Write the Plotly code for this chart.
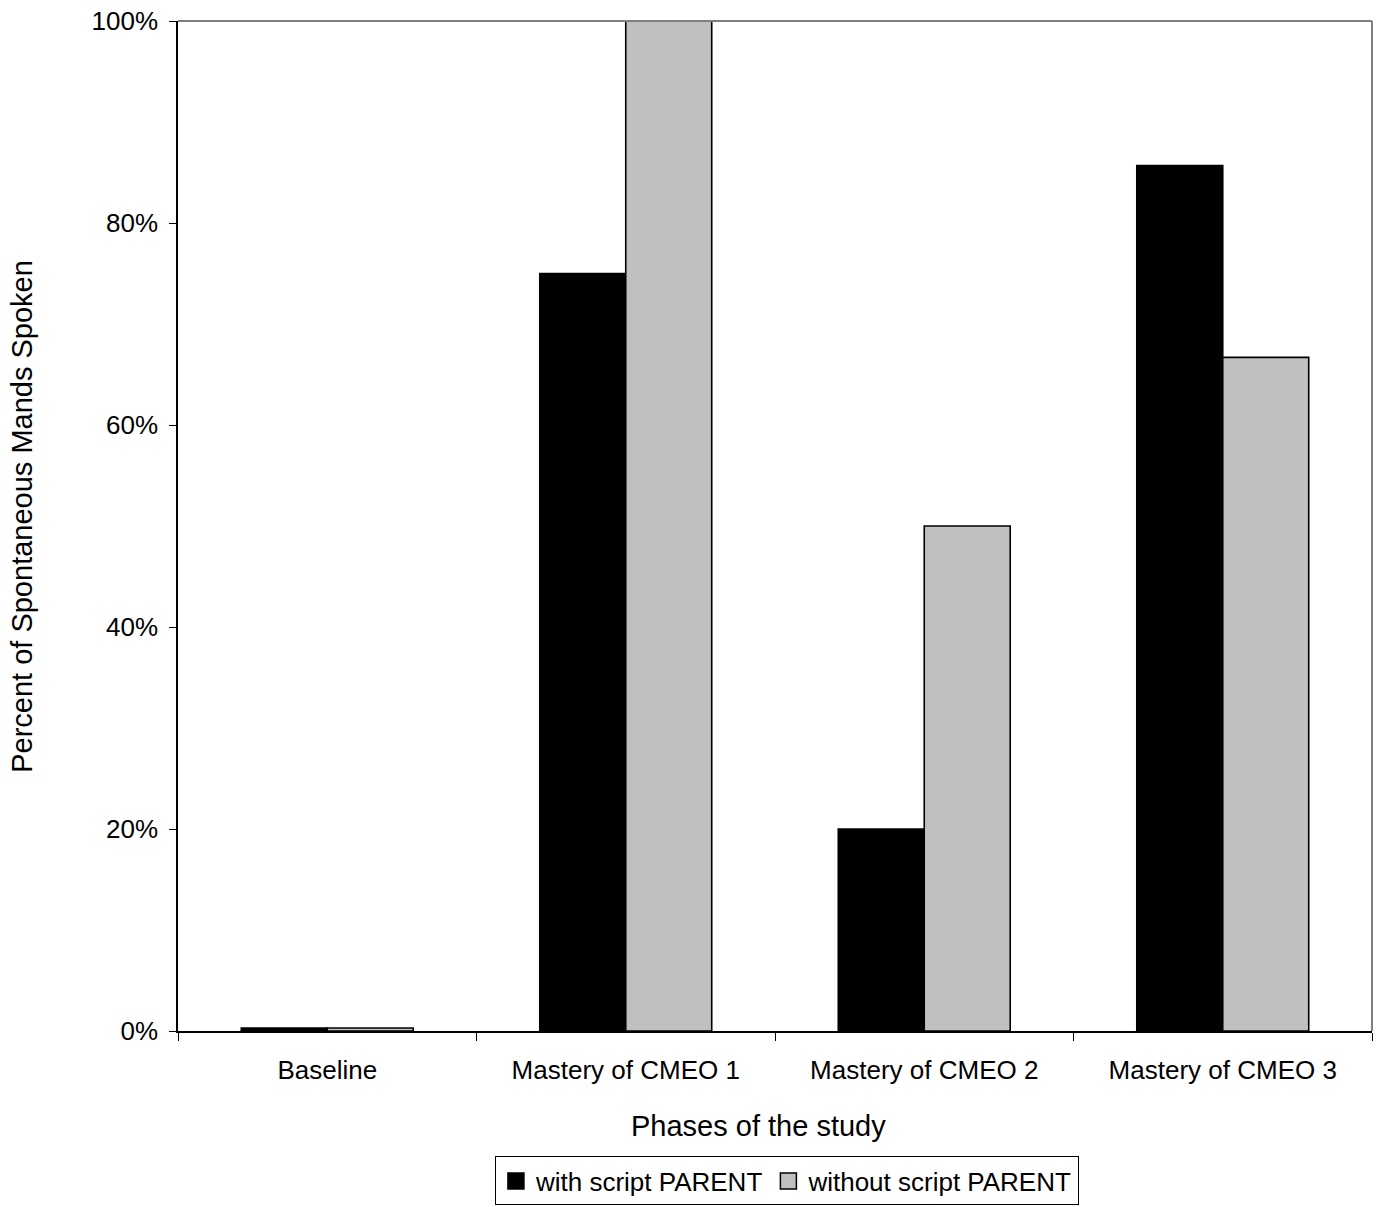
import plotly.graph_objects as go

# Study phases and percent of spontaneous mands spoken per condition
phases = ["Baseline", "Mastery of CMEO 1", "Mastery of CMEO 2", "Mastery of CMEO 3"]
with_script = [0.003, 0.75, 0.20, 0.857]
without_script = [0.003, 1.00, 0.50, 0.667]
series_names = ["with script PARENT", "without script PARENT"]
series_colors = ["#000000", "#C0C0C0"]
y_ticks = [0, 0.2, 0.4, 0.6, 0.8, 1.0]
x_title = "Phases of the study"
y_title = "Percent of Spontaneous Mands Spoken"

FONT = "Liberation Sans, Arial, sans-serif"

fig = go.Figure()
for vals, name, color in zip([with_script, without_script], series_names, series_colors):
    fig.add_trace(go.Bar(
        x=phases, y=vals, name=name, showlegend=False,
        marker=dict(color=color, line=dict(color="#000000", width=1.6)),
    ))

# Legend keys drawn as larger square swatches
for name, color in zip(series_names, series_colors):
    fig.add_trace(go.Scatter(
        x=[None], y=[None], mode="markers", name=name, showlegend=True,
        marker=dict(symbol="square", size=17, color=color,
                    line=dict(color="#000000", width=1.5)),
    ))

fig.update_layout(
    width=1379, height=1207,
    margin=dict(l=178, r=7, t=21, b=176, autoexpand=False),
    paper_bgcolor="white", plot_bgcolor="white",
    font=dict(family=FONT, size=26, color="#000000"),
    barmode="group", bargap=0.424, bargroupgap=0,
    showlegend=True,
    legend=dict(
        orientation="h", x=0.51, xanchor="center", y=-0.1485, yanchor="middle",
        bordercolor="#000000", borderwidth=1, bgcolor="white",
        font=dict(size=26), itemwidth=30, tracegroupgap=0,
    ),
    xaxis=dict(
        showline=True, linecolor="#000000", linewidth=1.5,
        ticks="outside", tickson="boundaries", ticklen=8, tickcolor="#000000",
        tickwidth=1, showgrid=False, tickfont=dict(size=26),
        ticklabelstandoff=15, automargin=False,
    ),
    yaxis=dict(
        range=[0, 1.0], tickvals=y_ticks, tickformat=".0%",
        showline=True, linecolor="#000000", linewidth=1.5,
        ticks="outside", ticklen=7, tickcolor="#000000", tickwidth=1,
        showgrid=False, zeroline=False, tickfont=dict(size=26),
        ticklabelstandoff=6, automargin=False,
    ),
    annotations=[
        dict(text=x_title, xref="paper", yref="paper", x=0.4862, y=-0.0941,
             xanchor="center", yanchor="middle", showarrow=False,
             font=dict(size=29)),
        dict(text=y_title, xref="paper", yref="paper", x=-0.1307, y=0.510,
             xanchor="center", yanchor="middle", showarrow=False,
             textangle=-90, font=dict(size=29)),
    ],
    shapes=[
        dict(type="line", xref="paper", yref="paper", x0=0, x1=1, y0=1, y1=1,
             line=dict(color="#808080", width=2)),
        dict(type="line", xref="paper", yref="paper", x0=1, x1=1, y0=0, y1=1,
             line=dict(color="#808080", width=2)),
    ],
)

fig.write_html("out.html")
